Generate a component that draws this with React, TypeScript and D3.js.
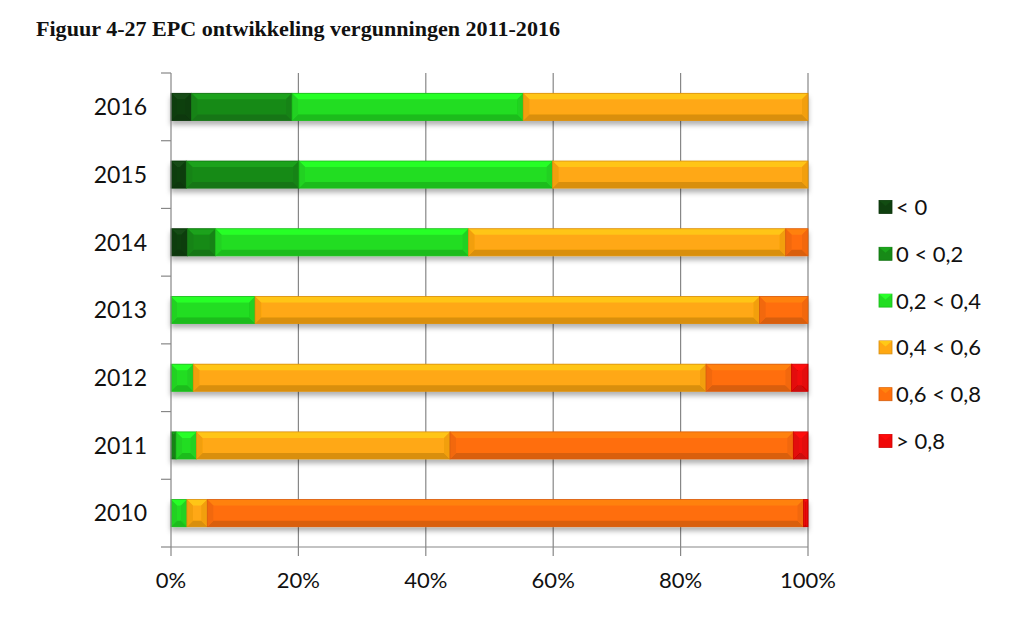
import React from "react";
import * as d3 from "d3";

const years = ["2016", "2015", "2014", "2013", "2012", "2011", "2010"];
const seriesNames = ["< 0", "0 < 0,2", "0,2 < 0,4", "0,4 < 0,6", "0,6 < 0,8", "> 0,8"];
const seriesColors = ["#0f400f", "#178a17", "#22dd22", "#ffa812", "#ff6e0c", "#f00808"];
const ltZero = [3.2, 2.4, 2.6, 0, 0, 0, 0];
const zeroTo02 = [15.8, 17.7, 4.4, 0, 0, 0.8, 0];
const from02To04 = [36.3, 39.8, 39.7, 13.2, 3.5, 3.2, 2.5];
const from04To06 = [44.7, 40.1, 49.8, 79.2, 80.5, 39.8, 3.2];
const from06To08 = [0, 0, 3.5, 7.6, 13.4, 53.9, 93.6];
const gt08 = [0, 0, 0, 0, 2.6, 2.3, 0.7];
const xTicks = [0, 20, 40, 60, 80, 100];
const title = "Figuur 4-27  EPC ontwikkeling vergunningen 2011-2016";

const seriesValues = [ltZero, zeroTo02, from02To04, from04To06, from06To08, gt08];

export default function App() {
  const W = 1024, H = 621;
  const left = 171, right = 808, top = 73, bottom = 547;
  const x = d3.scaleLinear().domain([0, 100]).range([left, right]);
  const y = d3.scaleBand<string>().domain(years).range([top, bottom]).paddingInner(0.6).paddingOuter(0.3);
  const step = y.step();

  const rows = years.map((yr, i) => {
    const r: any = { year: yr };
    seriesNames.forEach((s, k) => (r[s] = seriesValues[k][i]));
    return r;
  });
  const stacked = d3.stack<any>().keys(seriesNames)(rows);

  const bevel = 6;
  const font = "Lato, 'Open Sans', sans-serif";
  const axisColor = "#878787";

  return (
    <svg width={W} height={H} style={{ position: "absolute", left: 0, top: 0, background: "#fff" }}>
      <defs>
        <filter id="shadow" x="-5%" y="-30%" width="110%" height="180%">
          <feDropShadow dx="0" dy="4" stdDeviation="2.5" floodColor="#000" floodOpacity="0.3" />
        </filter>
      </defs>
      <text x={36} y={36} fontFamily="'Liberation Serif', serif" fontWeight="bold" fontSize={21} fill="#111" textLength={524} lengthAdjust="spacingAndGlyphs">
        {title}
      </text>

      {/* gridlines */}
      {xTicks.filter((t) => t > 0).map((t) => (
        <line key={"g" + t} x1={x(t)} x2={x(t)} y1={top} y2={bottom} stroke={axisColor} strokeWidth={1.2} />
      ))}

      {/* bars */}
      {years.map((yr, i) => {
        const y0 = y(yr)!;
        const h = y.bandwidth();
        const y1 = y0 + h;
        return (
          <g key={yr} filter="url(#shadow)">
            {stacked.map((s, k) => {
              const d = s[i];
              if (d[1] - d[0] <= 0) return null;
              const x0 = x(d[0]);
              const x1 = x(d[1]);
              const b = Math.min(bevel, (x1 - x0) / 2);
              const c = d3.color(seriesColors[k])!;
              const light = d3.color(seriesColors[k])!.brighter(0.45).formatHex();
              const dark = d3.color(seriesColors[k])!.darker(0.45).formatHex();
              const side = d3.color(seriesColors[k])!.darker(0.15).formatHex();
              return (
                <g key={k}>
                  <rect x={x0} y={y0} width={x1 - x0} height={h} fill={c.formatHex()} />
                  <polygon points={`${x0},${y0} ${x1},${y0} ${x1 - b},${y0 + b} ${x0 + b},${y0 + b}`} fill={light} />
                  <polygon points={`${x0},${y1} ${x1},${y1} ${x1 - b},${y1 - b} ${x0 + b},${y1 - b}`} fill={dark} />
                  <polygon points={`${x0},${y0} ${x0 + b},${y0 + b} ${x0 + b},${y1 - b} ${x0},${y1}`} fill={side} />
                  <polygon points={`${x1},${y0} ${x1 - b},${y0 + b} ${x1 - b},${y1 - b} ${x1},${y1}`} fill={side} />
                  <rect x={x0} y={y0} width={x1 - x0} height={h} fill="none" stroke={dark} strokeWidth={0.8} />
                </g>
              );
            })}
          </g>
        );
      })}

      {/* axes */}
      <line x1={left} x2={left} y1={top} y2={bottom} stroke={axisColor} strokeWidth={1.2} />
      <line x1={left} x2={right} y1={bottom} y2={bottom} stroke={axisColor} strokeWidth={1.2} />
      {d3.range(years.length + 1).map((j) => (
        <line key={"yt" + j} x1={left - 10} x2={left} y1={top + j * step} y2={top + j * step} stroke={axisColor} strokeWidth={1.2} />
      ))}
      {xTicks.map((t) => (
        <line key={"xt" + t} x1={x(t)} x2={x(t)} y1={bottom} y2={bottom + 9} stroke={axisColor} strokeWidth={1.2} />
      ))}
      {years.map((yr) => (
        <text key={"yl" + yr} x={147} y={y(yr)! + y.bandwidth() / 2} dy="0.36em" textAnchor="end" fontFamily={font} fontSize={23} fill="#111">
          {yr}
        </text>
      ))}
      {xTicks.map((t) => (
        <text key={"xl" + t} x={x(t)} y={588} textAnchor="middle" fontFamily={font} fontSize={22} fill="#111">
          {t + "%"}
        </text>
      ))}

      {/* legend */}
      {seriesNames.map((s, k) => {
        const ly = 207 + k * 46.8;
        const c = seriesColors[k];
        return (
          <g key={"lg" + s}>
            <rect x={879} y={ly - 6.5} width={13} height={13} fill={c} stroke={d3.color(c)!.darker(0.5).formatHex()} strokeWidth={0.8} />
            <polygon points={`${879},${ly - 6.5} ${892},${ly - 6.5} ${885.5},${ly - 1}`} fill={d3.color(c)!.brighter(0.5).formatHex()} />
            <text x={896} y={ly} dy="0.36em" fontFamily={font} fontSize={22} fill="#111">
              {s}
            </text>
          </g>
        );
      })}
    </svg>
  );
}
